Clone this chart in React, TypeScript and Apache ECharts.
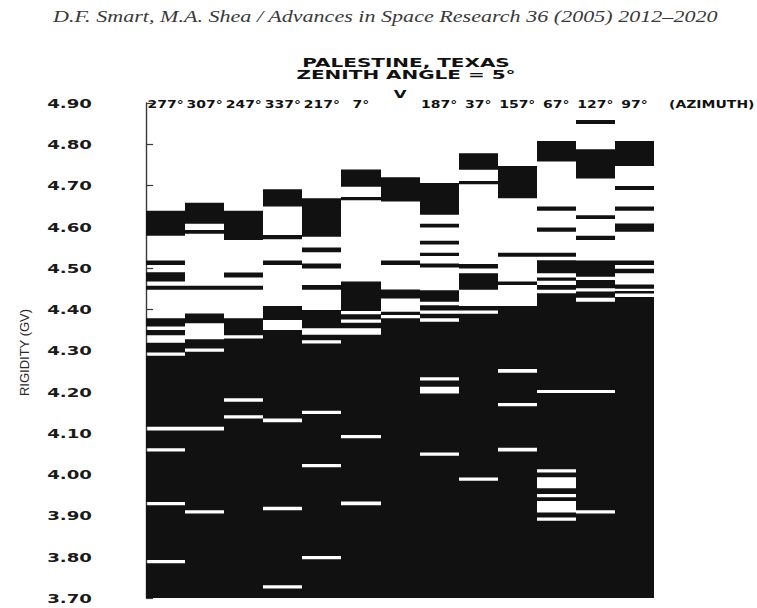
import React, { useEffect, useRef } from 'react';
import * as echarts from 'echarts';

// Column order (azimuths) as printed across the top; "V" = vertical incidence
const azimuthLabels = ['277°', '307°', '247°', '337°', '217°', '7°', 'V', '187°', '37°', '157°', '67°', '127°', '97°'];

// Y tick labels (rigidity, GV)
const yTickLabels = ['3.70', '3.80', '3.90', '4.00', '4.10', '4.20', '4.30', '4.40', '4.50', '4.60', '4.70', '4.80', '4.90'];

// Forbidden (black) rigidity bands per azimuth column, [low, high] in GV
const az277 = [[3.70, 3.784], [3.792, 3.925], [3.933, 4.055], [4.063, 4.106], [4.115, 4.287], [4.295, 4.319], [4.337, 4.350], [4.358, 4.378], [4.447, 4.457], [4.467, 4.490], [4.507, 4.518], [4.578, 4.639]];
const az307 = [[3.70, 3.905], [3.913, 4.106], [4.115, 4.297], [4.305, 4.327], [4.366, 4.390], [4.447, 4.457], [4.583, 4.592], [4.607, 4.658]];
const az247 = [[3.70, 4.135], [4.143, 4.176], [4.184, 4.329], [4.337, 4.378], [4.447, 4.457], [4.477, 4.489], [4.568, 4.639]];
const az337 = [[3.70, 3.723], [3.731, 3.913], [3.921, 4.126], [4.135, 4.350], [4.374, 4.408], [4.507, 4.518], [4.570, 4.580], [4.649, 4.691]];
const az217 = [[3.70, 3.794], [3.802, 4.017], [4.025, 4.146], [4.154, 4.317], [4.325, 4.338], [4.354, 4.398], [4.447, 4.459], [4.499, 4.511], [4.538, 4.550], [4.576, 4.669]];
const az7 = [[3.70, 3.925], [3.934, 4.087], [4.095, 4.338], [4.354, 4.367], [4.375, 4.388], [4.396, 4.467], [4.664, 4.672], [4.697, 4.739]];
const azV = [[3.70, 4.378], [4.386, 4.394], [4.426, 4.448], [4.507, 4.518], [4.661, 4.720]];
const az187 = [[3.70, 4.045], [4.053, 4.196], [4.212, 4.227], [4.235, 4.370], [4.378, 4.389], [4.397, 4.410], [4.418, 4.446], [4.501, 4.511], [4.529, 4.537], [4.557, 4.566], [4.598, 4.607], [4.629, 4.706]];
const az37 = [[3.70, 3.984], [3.992, 4.389], [4.397, 4.408], [4.447, 4.487], [4.499, 4.510], [4.703, 4.711], [4.738, 4.778]];
const az157 = [[3.70, 4.055], [4.064, 4.165], [4.173, 4.246], [4.255, 4.408], [4.459, 4.467], [4.527, 4.537], [4.669, 4.747]];
const az67 = [[3.70, 3.887], [3.895, 3.907], [3.935, 3.944], [3.952, 3.966], [3.993, 4.004], [4.012, 4.197], [4.204, 4.439], [4.447, 4.459], [4.469, 4.477], [4.487, 4.519], [4.527, 4.537], [4.588, 4.598], [4.639, 4.649], [4.758, 4.808]];
const az127 = [[3.70, 3.905], [3.913, 4.197], [4.204, 4.418], [4.428, 4.443], [4.451, 4.471], [4.479, 4.518], [4.568, 4.578], [4.619, 4.628], [4.717, 4.788], [4.849, 4.859]];
const az97 = [[3.70, 4.430], [4.438, 4.444], [4.450, 4.460], [4.487, 4.498], [4.507, 4.518], [4.588, 4.608], [4.639, 4.649], [4.689, 4.699], [4.747, 4.808]];

const columns = [az277, az307, az247, az337, az217, az7, azV, az187, az37, az157, az67, az127, az97];

const headerText = 'D.F. Smart, M.A. Shea / Advances in Space Research 36 (2005) 2012–2020';
const titleLines = ['PALESTINE, TEXAS', 'ZENITH ANGLE = 5°'];
const axisName = 'RIGIDITY (GV)';
const azimuthName = '(AZIMUTH)';

const INK = '#111111';
const WIDE = '"DejaVu Sans", sans-serif';

export default function App() {
  const ref = useRef<HTMLDivElement>(null);

  useEffect(() => {
    if (!ref.current) return;
    const chart = echarts.init(ref.current, null, { renderer: 'svg' });

    const data: number[][] = [];
    columns.forEach((bands, c) => {
      bands.forEach(([lo, hi]) => data.push([c, lo, hi]));
    });

    chart.setOption({
      animation: false,
      backgroundColor: '#ffffff',
      grid: { left: 107, top: 103, width: 547, height: 495, containLabel: false },
      xAxis: {
        type: 'value',
        min: -1,
        max: 13,
        show: false,
      },
      yAxis: {
        type: 'value',
        min: 3.7,
        max: 4.9,
        interval: 0.1,
        axisLine: { show: true, lineStyle: { color: '#3a3a3a', width: 1.4 } },
        axisTick: { show: true, inside: true, length: 7, lineStyle: { color: '#3a3a3a', width: 1.2 } },
        axisLabel: { show: false },
        splitLine: { show: false },
      },
      series: [
        {
          type: 'custom',
          encode: { x: 0, y: [1, 2] },
          data,
          renderItem: (params: any, api: any) => {
            const c = api.value(0);
            const lo = api.value(1);
            const hi = api.value(2);
            const a = api.coord([c, hi]);
            const b = api.coord([c + 1, lo]);
            const x0 = Math.round(a[0]);
            const x1 = Math.round(b[0]);
            return {
              type: 'rect',
              shape: { x: x0, y: a[1], width: x1 - x0, height: Math.max(1, b[1] - a[1]) },
              style: { fill: INK },
            };
          },
        },
      ],
    });

    const px = (x: number, y: number) => chart.convertToPixel({ gridIndex: 0 }, [x, y]) as number[];
    const graphics: any[] = [];

    // header
    graphics.push({
      type: 'text',
      x: 53,
      y: 16,
      scaleX: 1.263,
      style: {
        text: headerText,
        font: 'italic 17.5px "Liberation Serif", "Times New Roman", serif',
        fill: '#3a3a3a',
        align: 'left',
        verticalAlign: 'middle',
        textAlign: 'left',
        textVerticalAlign: 'middle',
      },
    });

    // title
    const titleY = [62.5, 74.5];
    titleLines.forEach((t, i) => {
      graphics.push({
        type: 'text',
        x: 406,
        y: titleY[i],
        scaleX: 1.6,
        style: {
          text: t,
          font: `bold 12.5px ${WIDE}`,
          fill: INK,
          align: 'center',
          verticalAlign: 'middle',
          textAlign: 'center',
          textVerticalAlign: 'middle',
        },
      });
    });

    // y tick labels
    yTickLabels.forEach((lab) => {
      const p = px(-1, parseFloat(lab));
      graphics.push({
        type: 'text',
        x: p[0] - 15,
        y: p[1] + 1,
        scaleX: 1.58,
        style: {
          text: lab,
          font: `bold 11.5px ${WIDE}`,
          fill: '#1a1a1a',
          align: 'right',
          verticalAlign: 'middle',
          textAlign: 'right',
          textVerticalAlign: 'middle',
        },
      });
    });

    // azimuth labels
    const top = px(0, 4.9);
    azimuthLabels.forEach((lab, c) => {
      const p = px(c + 0.5, 4.9);
      const isV = lab === 'V';
      graphics.push({
        type: 'text',
        x: p[0],
        y: isV ? top[1] - 9 : top[1] + 2,
        scaleX: isV ? 1.5 : 1.4,
        style: {
          text: lab,
          font: isV ? `bold 11px ${WIDE}` : `bold 10px ${WIDE}`,
          fill: INK,
          align: 'center',
          verticalAlign: 'middle',
          textAlign: 'center',
          textVerticalAlign: 'middle',
        },
      });
    });
    const right = px(13, 4.9);
    graphics.push({
      type: 'text',
      x: right[0] + 15,
      y: top[1] + 2,
      scaleX: 1.4,
      style: {
        text: azimuthName,
        font: `bold 10px ${WIDE}`,
        fill: INK,
        align: 'left',
        verticalAlign: 'middle',
        textAlign: 'left',
        textVerticalAlign: 'middle',
      },
    });

    // y axis name
    const mid = px(-1, 4.3);
    graphics.push({
      type: 'text',
      x: 24,
      y: mid[1] + 2,
      rotation: Math.PI / 2,
      style: {
        text: axisName,
        font: '13px "Liberation Sans", Arial, sans-serif',
        fill: '#2a2a2a',
        align: 'center',
        verticalAlign: 'middle',
        textAlign: 'center',
        textVerticalAlign: 'middle',
      },
    });

    chart.setOption({ graphic: graphics });

    return () => chart.dispose();
  }, []);

  return (
    <div
      ref={ref}
      style={{ position: 'fixed', left: 0, top: 0, width: 757, height: 608, background: '#fff' }}
    />
  );
}
